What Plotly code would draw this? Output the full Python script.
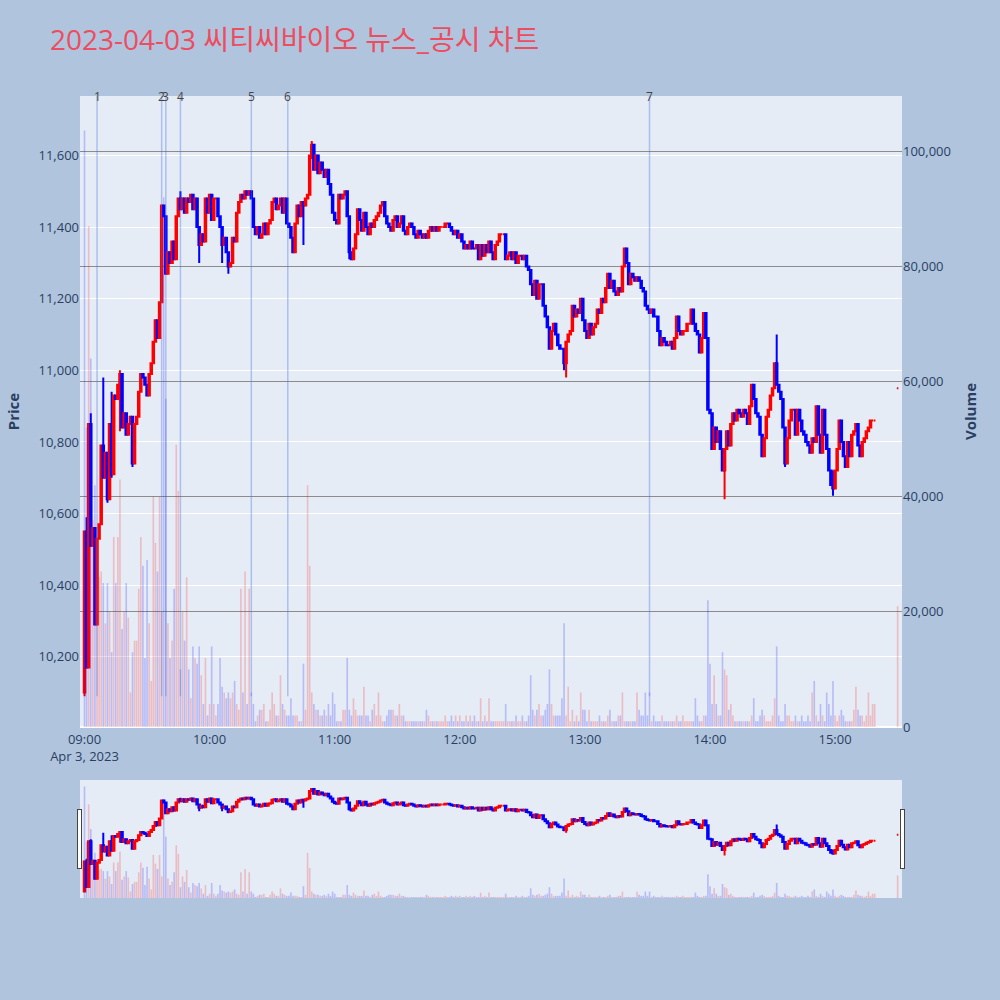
import pandas as pd
import plotly.graph_objects as go

# ---------------- data ----------------
session_start = "2023-04-03 09:00"
first_open = 10100

# 1-minute closes 09:00 .. 15:19
close = [
    10550, 10170, 10850, 10510, 10560, 10290, 10530, 10570, 10790, 10700,
    10770, 10640, 10850, 10710, 10930, 10920, 10960, 10990, 10840, 10880,
    10820, 10850, 10870, 10740, 10850, 10870, 10940, 10990, 10980, 10960,
    10930, 10990, 11020, 11080, 11140, 11090, 11190, 11460, 11430, 11270,
    11330, 11300, 11360, 11310, 11430, 11480, 11450, 11480, 11440, 11480,
    11470, 11490, 11450, 11480, 11400, 11350, 11380, 11360, 11480, 11440,
    11490, 11420, 11480, 11480, 11430, 11400, 11350, 11370, 11330, 11290,
    11300, 11370, 11360, 11440, 11470, 11490, 11480, 11500, 11490, 11500,
    11480, 11400, 11380, 11400, 11370, 11380, 11410, 11380, 11410, 11420,
    11470, 11480, 11450, 11460, 11480, 11440, 11480, 11410, 11400, 11370,
    11330, 11410, 11460, 11430, 11470, 11460, 11480, 11490, 11600, 11630,
    11560, 11600, 11550, 11580, 11560, 11540, 11560, 11520, 11490, 11440,
    11420, 11410, 11490, 11480, 11490, 11500, 11430, 11330, 11310, 11340,
    11380, 11450, 11420, 11390, 11440, 11400, 11380, 11410, 11400, 11420,
    11430, 11440, 11460, 11470, 11430, 11410, 11400, 11390, 11420, 11430,
    11400, 11410, 11430, 11390, 11380, 11400, 11410, 11400, 11380, 11370,
    11390, 11380, 11370, 11380, 11370, 11390, 11400, 11390, 11400, 11390,
    11400, 11400, 11400, 11410, 11410, 11400, 11390, 11380, 11390, 11370,
    11380, 11360, 11340, 11350, 11340, 11360, 11340, 11340, 11350, 11310,
    11350, 11320, 11350, 11330, 11360, 11330, 11310, 11350, 11360, 11380,
    11380, 11380, 11310, 11320, 11330, 11310, 11330, 11300, 11320, 11320,
    11310, 11320, 11290, 11280, 11240, 11210, 11250, 11200, 11240, 11240,
    11180, 11150, 11120, 11060, 11110, 11130, 11100, 11070, 11060, 11060,
    11020, 11080, 11100, 11110, 11180, 11150, 11170, 11160, 11200, 11140,
    11110, 11090, 11130, 11100, 11120, 11130, 11170, 11160, 11200, 11190,
    11230, 11270, 11230, 11250, 11220, 11210, 11230, 11220, 11290, 11340,
    11300, 11240, 11270, 11260, 11250, 11260, 11250, 11230, 11220, 11180,
    11170, 11160, 11170, 11150, 11150, 11110, 11070, 11090, 11080, 11070,
    11070, 11080, 11060, 11090, 11150, 11110, 11100, 11110, 11110, 11130,
    11130, 11170, 11130, 11110, 11100, 11050, 11090, 11160, 11090, 10890,
    10880, 10780, 10840, 10800, 10830, 10780, 10720, 10780, 10830, 10790,
    10850, 10880, 10860, 10890, 10880, 10870, 10890, 10880, 10850, 10900,
    10960, 10920, 10880, 10870, 10820, 10760, 10810, 10870, 10890, 10930,
    10950, 11020, 10960, 10940, 10920, 10840, 10740, 10810, 10860, 10890,
    10890, 10820, 10890, 10860, 10830, 10820, 10800, 10790, 10770, 10810,
    10800, 10900, 10820, 10770, 10890, 10820, 10780, 10720, 10680, 10670,
    10720, 10780, 10860, 10800, 10760, 10730, 10800, 10760, 10820, 10830,
    10850, 10790, 10760, 10800, 10810, 10830, 10840, 10860, 10860, 10860,
]

# visible wick extremes: minute index -> (high, low)
wicks = {
    0: (10550, 10090), 1: (10590, 10170), 3: (10880, 10510), 9: (10980, 10700),
    11: (10760, 10630), 13: (10940, 10700), 17: (11000, 10830), 23: (10860, 10730),
    37: (11460, 11190), 39: (11430, 11270), 46: (11500, 11450), 55: (11400, 11300),
    66: (11400, 11300), 69: (11330, 11270), 105: (11470, 11350), 109: (11640, 11590),
    127: (11430, 11310), 230: (11060, 11000), 231: (11080, 10980), 307: (10780, 10640),
    332: (11100, 10960), 336: (10840, 10730), 359: (10720, 10650),
}

# 1-minute volume (thousand shares) 09:00 .. 15:19
volume_k = [
    103.6, 52, 87, 64, 36, 42, 30, 26, 27, 25,
    18, 25, 20, 13, 33, 25, 33, 43, 17, 20,
    25, 19, 6, 13, 15, 15, 24, 33, 28, 12,
    29, 18, 8, 40, 32, 27, 40, 20, 92, 57,
    18, 12, 15, 24, 49, 41, 10, 20, 15, 26,
    10, 5, 14, 12, 11, 14, 9, 4, 12, 2,
    4, 14, 4, 2, 4, 12, 7, 6, 5, 6,
    5, 6, 8, 4, 3, 24, 6, 27, 4, 24,
    6, 4, 1, 2, 3, 3, 4, 1, 1, 3,
    6, 4, 2, 2, 9, 4, 3, 2, 2, 5,
    2, 2, 2, 1, 1, 11, 3, 42, 28, 6,
    4, 3, 3, 2, 2, 3, 2, 4, 2, 6,
    4, 1, 1, 1, 3, 3, 12, 3, 2, 5,
    3, 2, 2, 2, 7, 2, 2, 1, 3, 4,
    2, 6, 2, 1, 1, 2, 3, 3, 3, 2,
    2, 4, 2, 2, 1, 1, 1, 1, 1, 1,
    1, 1, 1, 1, 3, 2, 1, 1, 1, 1,
    1, 1, 1, 2, 1, 1, 2, 1, 2, 1,
    2, 1, 1, 2, 1, 2, 1, 2, 1, 1,
    5, 1, 2, 1, 5, 1, 1, 1, 1, 1,
    1, 1, 4, 1, 1, 1, 1, 2, 1, 1,
    2, 1, 1, 2, 9, 3, 2, 3, 4, 2,
    2, 3, 4, 10, 4, 2, 2, 2, 2, 5,
    18, 2, 7, 1, 3, 1, 2, 1, 6, 3,
    3, 1, 3, 1, 1, 1, 1, 2, 1, 1,
    1, 2, 3, 1, 1, 1, 2, 2, 6, 1,
    1, 1, 1, 1, 1, 6, 3, 2, 2, 6,
    2, 6, 1, 2, 1, 1, 1, 2, 1, 1,
    1, 1, 1, 1, 2, 1, 1, 2, 1, 1,
    1, 1, 1, 5, 2, 1, 1, 2, 2, 22,
    11, 4, 9, 4, 2, 2, 13, 10, 9, 3,
    4, 2, 1, 1, 1, 1, 1, 1, 1, 1,
    2, 5, 1, 1, 2, 3, 2, 1, 1, 1,
    2, 5, 14, 2, 1, 1, 4, 2, 2, 1,
    1, 2, 1, 1, 2, 1, 1, 2, 1, 6,
    8, 2, 1, 4, 2, 1, 6, 4, 2, 8,
    2, 1, 2, 3, 2, 1, 1, 1, 1, 3,
    7, 3, 2, 2, 1, 2, 6, 2, 4, 4,
]

# closing auction (15:30)
auction_time = "2023-04-03 15:30"
auction_price = 10950
auction_volume_k = 21

# news / disclosure markers
news_times = ["2023-04-03 09:06", "2023-04-03 09:37", "2023-04-03 09:39",
              "2023-04-03 09:46", "2023-04-03 10:20", "2023-04-03 10:37:30",
              "2023-04-03 13:31"]
news_labels = ["1", "2", "3", "4", "5", "6", "7"]

title_text = "2023-04-03 씨티씨바이오 뉴스_공시 차트"

# ---------------- build OHLC ----------------
t0 = pd.Timestamp(session_start)
times = [t0 + pd.Timedelta(minutes=i) for i in range(len(close))]
opens = [first_open] + close[:-1]
highs, lows = [], []
for i, (o, c) in enumerate(zip(opens, close)):
    h, l = max(o, c), min(o, c)
    if i in wicks:
        h = max(h, wicks[i][0])
        l = min(l, wicks[i][1])
    highs.append(h)
    lows.append(l)

times.append(pd.Timestamp(auction_time))
opens.append(auction_price)
highs.append(auction_price)
lows.append(auction_price)
closes = close + [auction_price]
volumes = [v * 1000 for v in volume_k] + [auction_volume_k * 1000]

# direction (same rule as plotly candlestick) for volume colours
vol_colors = []
prev_c = None
inc = True
for o, c in zip(opens, closes):
    if c == o:
        if prev_c is not None and c != prev_c:
            inc = c > prev_c
    else:
        inc = c > o
    prev_c = c
    vol_colors.append("rgba(255,0,0,0.2)" if inc else "rgba(0,0,255,0.2)")
vol_colors[0] = "rgba(0,0,255,0.2)"

fig = go.Figure()
fig.add_trace(go.Candlestick(
    x=times, open=opens, high=highs, low=lows, close=closes,
    increasing=dict(line=dict(color="#FF0000", width=2), fillcolor="#FF0000"),
    decreasing=dict(line=dict(color="#0000FF", width=2), fillcolor="#0000FF"),
    name="Price", yaxis="y",
))
fig.add_trace(go.Bar(
    x=times, y=volumes, marker=dict(color=vol_colors, line=dict(width=0)),
    name="Volume", yaxis="y2",
))

y_low = min(lows)
y_top = 11766
for t, lab in zip(news_times, news_labels):
    fig.add_shape(type="line", xref="x", yref="y", x0=t, x1=t, y0=y_low, y1=y_top,
                  line=dict(color="rgba(65,105,225,0.35)", width=1.5))
    fig.add_annotation(x=t, xref="x", y=1, yref="paper", yanchor="middle",
                       text=lab, showarrow=False,
                       font=dict(size=12, color="#444444"))

fig.update_layout(
    width=1000, height=1000,
    template="plotly",
    paper_bgcolor="#B0C4DE",
    plot_bgcolor="#E5ECF6",
    font=dict(family="Open Sans, Noto Sans CJK KR, sans-serif", size=13),
    title=dict(text=title_text, x=0.05, xanchor="left", y=0.96, yanchor="middle",
               font=dict(size=28, color="#EC4D60",
                         family="Open Sans, Noto Sans CJK KR, sans-serif")),
    margin=dict(l=80, r=98, t=96, b=102),
    showlegend=False,
    boxgap=0.15, boxgroupgap=0.15,
    xaxis=dict(
        type="date", showgrid=False,
        range=["2023-04-03 08:57:50", "2023-04-03 15:32:06"],
        dtick=3600000, ticklabelstandoff=3,
        rangeslider=dict(visible=True, thickness=0.147, bgcolor="#E5ECF6",
                         range=["2023-04-03 08:57:50", "2023-04-03 15:32:06"]),
    ),
    yaxis=dict(title=dict(text="<b>Price</b>", font=dict(size=15)),
               range=[10004, y_top], tickformat=",", dtick=200, tick0=10000),
    yaxis2=dict(title=dict(text="<b>Volume</b>", font=dict(size=15)),
                overlaying="y", side="right",
                range=[0, 109580], tickformat=",", dtick=20000,
                showgrid=True, gridcolor="rgb(140,140,140)"),
)

fig.write_html("out.html", config={"displayModeBar": False},
               post_script="document.body.style.margin='0';document.body.style.padding='0';")
